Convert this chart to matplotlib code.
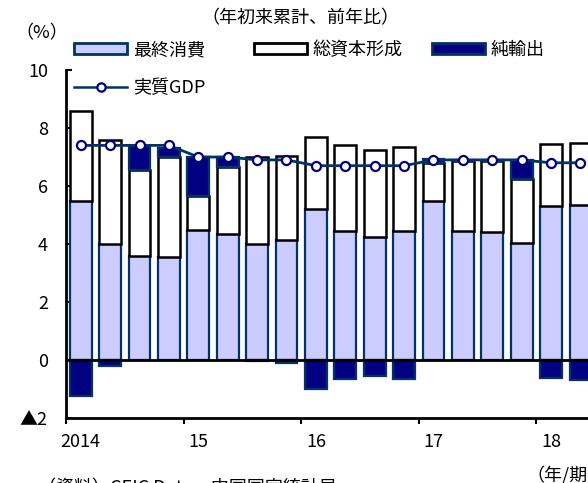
import numpy as np
import matplotlib
matplotlib.use("Agg")
import matplotlib.pyplot as plt
from matplotlib.patches import Patch
from matplotlib.lines import Line2D

plt.rcParams["font.family"] = ["Noto Sans CJK JP", "DejaVu Sans"]

# 2014Q1 .. 2018Q2, year-to-date, y/y contribution (%pt)
quarters = ["2014Q1", "2014Q2", "2014Q3", "2014Q4", "2015Q1", "2015Q2", "2015Q3", "2015Q4",
            "2016Q1", "2016Q2", "2016Q3", "2016Q4", "2017Q1", "2017Q2", "2017Q3", "2017Q4",
            "2018Q1", "2018Q2"]
consumption = [5.5, 4.0, 3.6, 3.55, 4.5, 4.35, 4.0, 4.15, 5.2, 4.45, 4.25, 4.45,
               5.5, 4.45, 4.4, 4.05, 5.3, 5.35]
capital = [3.1, 3.6, 2.95, 3.45, 1.15, 2.3, 3.0, 2.9, 2.5, 2.95, 3.0, 2.9,
           1.3, 2.4, 2.45, 2.2, 2.15, 2.15]
net_exports = [-1.25, -0.22, 0.82, 0.3, 1.35, 0.35, -0.05, -0.1, -1.0, -0.67, -0.54, -0.67,
               0.12, 0.05, 0.06, 0.65, -0.63, -0.69]
real_gdp = [7.4, 7.4, 7.4, 7.4, 7.0, 7.0, 6.9, 6.9, 6.7, 6.7, 6.7, 6.7,
            6.9, 6.9, 6.9, 6.9, 6.8, 6.8]
year_labels = ["2014", "15", "16", "17", "18"]
y_ticks = [-2, 0, 2, 4, 6, 8, 10]
y_labels = ["▲2", "0", "2", "4", "6", "8", "10"]

LAV = "#ccccff"; NAVY = "#000080"; EDGE = "#003366"
FS = 13

fig = plt.figure(figsize=(5.88, 4.83), dpi=100)
ax = fig.add_axes([66 / 588, 65 / 483, 1 - 66 / 588, 348 / 483])

x = np.arange(len(quarters))
cons = np.array(consumption); cap = np.array(capital); nx = np.array(net_exports)
w = 0.74
ax.bar(x, cons, w, color=LAV, edgecolor=EDGE, lw=1.6, zorder=2)
ax.bar(x, cap, w, bottom=cons, color="white", edgecolor="black", lw=1.8, zorder=2)
ax.bar(x, nx, w, bottom=np.where(nx > 0, cons + cap, 0), color=NAVY, edgecolor=EDGE, lw=1.6, zorder=3)
ax.axhline(0, color="black", lw=2, zorder=4)
ax.plot(x, real_gdp, color=EDGE, lw=2, marker="o", ms=6.5, mfc="white", mec=NAVY, mew=1.6, zorder=5)

ax.set_xlim(-0.5, -0.5 + 522 / 29.4)
ax.set_ylim(-2, 10)
for s in ("top", "right"):
    ax.spines[s].set_visible(False)
for s in ("left", "bottom"):
    ax.spines[s].set_linewidth(2)

ax.set_yticks(y_ticks)
ax.set_yticklabels(y_labels, fontsize=FS)
ax.tick_params(axis="y", direction="in", length=4, width=1.5, pad=13)

ax.set_xticks(np.arange(-0.5, len(quarters) + 1, 4))
ax.set_xticklabels([])
ax.set_xticks(np.arange(0, len(quarters), 4), minor=True)
ax.set_xticklabels(year_labels, minor=True, fontsize=FS)
ax.tick_params(axis="x", which="major", direction="out", length=4, width=1.5)
ax.tick_params(axis="x", which="minor", length=0, pad=11)

# legend entries placed one by one, like the original layout
entries = [
    (Patch(facecolor=LAV, edgecolor=EDGE, lw=2), "最終消費", 74, 50),
    (Patch(facecolor="white", edgecolor="black", lw=2), "総資本形成", 254, 50),
    (Patch(facecolor=NAVY, edgecolor=EDGE, lw=2), "純輸出", 432, 50),
    (Line2D([], [], color=EDGE, lw=1.8, marker="o", ms=6, mfc="white", mec=NAVY, mew=1.6),
     "実質GDP", 74, 88),
]
for h, lab, px, py in entries:
    fig.legend([h], [lab], frameon=False, fontsize=FS, loc="center left",
               bbox_to_anchor=(px / 588, 1 - py / 483),
               handlelength=2.95, handleheight=0.55, handletextpad=0.3,
               borderpad=0, borderaxespad=0)

fig.text(300 / 588, 1 - 18 / 483, "（年初来累計、前年比）", ha="center", va="center", fontsize=FS)
fig.text(42 / 588, 1 - 33 / 483, "（%）", ha="center", va="center", fontsize=FS)
fig.text(526 / 588, 1 - 475 / 483, "（年/期）", ha="left", va="center", fontsize=FS)
fig.text(38 / 588, 1 - 479 / 483, "（資料）CEIC Data、中国国家統計局", ha="left", va="top", fontsize=FS)

fig.savefig("out.png", dpi=100)
